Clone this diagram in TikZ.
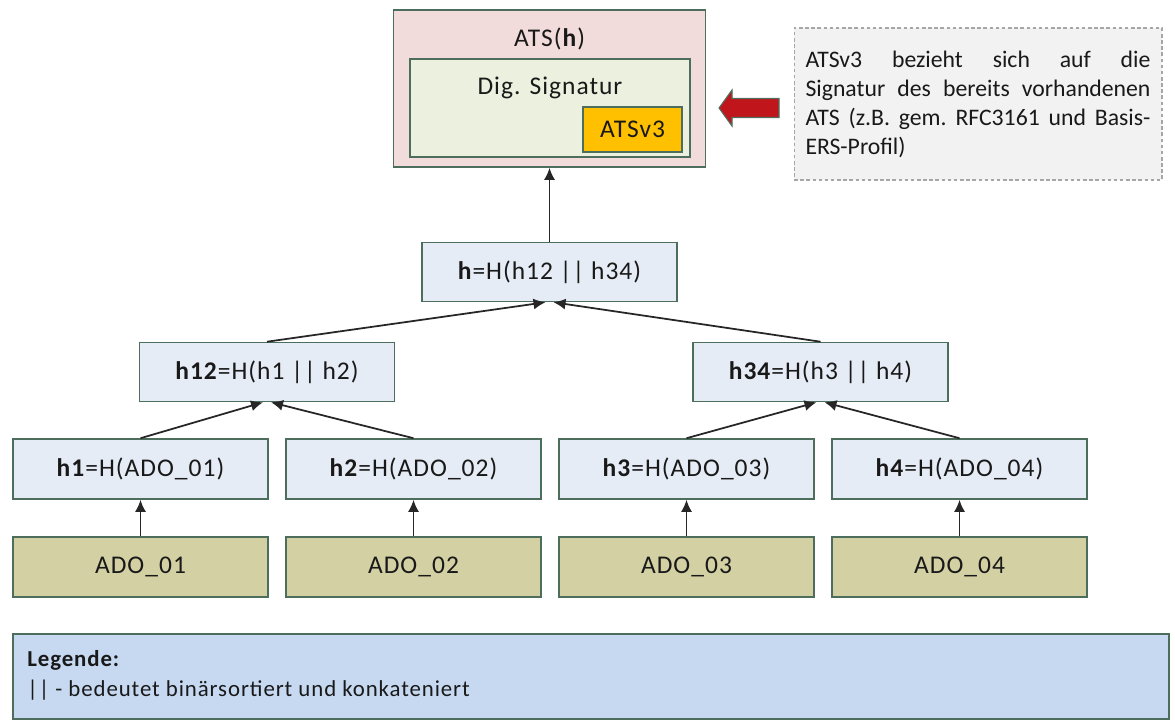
\documentclass[tikz,border=0pt]{standalone}
\usepackage{fontspec}
\setmainfont{Carlito}[LetterSpace=4]
\newfontfamily\notefont{Carlito}
\usetikzlibrary{arrows.meta,positioning}

\definecolor{boxline}{HTML}{4E6E5D}
\definecolor{atsred}{HTML}{F2DCDB}
\definecolor{sigreen}{HTML}{EBF1DE}
\definecolor{atsorange}{HTML}{FFC000}
\definecolor{hashblue}{HTML}{E6ECF5}
\definecolor{adoolive}{HTML}{D3D0A3}
\definecolor{legblue}{HTML}{C6D9F1}
\definecolor{notegray}{HTML}{F2F2F2}
\definecolor{arrowred}{HTML}{C0151B}

\tikzset{
  lbl/.style={inner sep=0pt, text=black!90, font=\fontsize{14.5}{16}\selectfont},
  box/.style={lbl, draw=boxline, line width=0.9pt},
  hashbox/.style={box, fill=hashblue, minimum width=5.1cm, minimum height=1.18cm},
  adobox/.style={box, fill=adoolive, minimum width=5.1cm, minimum height=1.2cm},
  up/.style={-{Latex[length=0.24cm,width=0.22cm]}, line width=1pt, black!85},
}

\begin{document}
\begin{tikzpicture}[x=0.02cm, y=-0.02cm]
    \useasboundingbox (0,0) rectangle (1175,727);

    % Zeitstempel mit Signatur
    \node[box, fill=atsred, minimum width=6.24cm, minimum height=3.14cm] (ats) at (549.5,88.5) {};
    \node[box, fill=sigreen, minimum width=5.6cm, minimum height=1.96cm] (sig) at (550,108) {};
    \node[lbl] (atstitle) at (549.5,39) {ATS(\textbf{h})};
    \node[lbl] (sigtitle) at (550,88) {Dig. Signatur};
    \node[box, fill=atsorange, minimum width=1.98cm, minimum height=0.9cm] (atsv3) at (632.5,129.5) {ATSv3};

    % Hinweis
    \filldraw[fill=arrowred, draw=boxline, line width=0.6pt] (719,108) -- (732,90) -- (732,98.5) -- (779,98.5)
        -- (779,117.5) -- (732,117.5) -- (732,126) -- cycle;
    \node[draw=gray!70, dash pattern=on 2pt off 1.5pt, line width=0.6pt, fill=notegray,
          inner xsep=0.23cm, text width=6.9cm, minimum height=3.04cm, align=justify, text=black!90,
          font=\notefont\fontsize{13.5}{16.5}\selectfont\frenchspacing] (note) at (978,104)
        {ATSv3 bezieht sich auf die\linebreak Signatur des bereits vorhandenen\linebreak
         ATS (z.B. gem.\ RFC3161 und Basis-\linebreak ERS-Profil)};

    % Hashbaum
    \node[hashbox] (h) at (549.5,272) {\textbf{h}=H(h12 || h34)};
    \node[hashbox] (h12) at (267,372) {\textbf{h12}=H(h1 || h2)};
    \node[hashbox] (h34) at (820.5,372) {\textbf{h34}=H(h3 || h4)};
    \foreach \i/\x in {1/140.5,2/413.5,3/686.5,4/959.5}{
        \node[hashbox, minimum height=1.2cm] (h\i) at (\x,469) {\textbf{h\i}=H(ADO\_0\i)};
        \node[adobox] (ado\i) at (\x,567) {ADO\_0\i};
        \draw[up] (ado\i) -- (h\i);
    }
    \draw[up] (h1.north) -- ([xshift=-0.08cm]h12.south);
    \draw[up] (h2.north) -- ([xshift=0.08cm]h12.south);
    \draw[up] (h3.north) -- ([xshift=-0.08cm]h34.south);
    \draw[up] (h4.north) -- ([xshift=0.08cm]h34.south);
    \draw[up] (h12.north) -- ([xshift=-0.08cm]h.south);
    \draw[up] (h34.north) -- ([xshift=0.08cm]h.south);
    \draw[up] (h) -- (ats);

    % Legende
    \node[box, fill=legblue, minimum width=23.12cm, minimum height=1.7cm] (legend) at (591,676.5) {};
    \node[lbl, anchor=north west, align=left, font=\fontsize{13}{17}\selectfont] (legtext) at (27,650)
        {\textbf{Legende:}\\|| - bedeutet binärsortiert und konkateniert};
\end{tikzpicture}
\end{document}
